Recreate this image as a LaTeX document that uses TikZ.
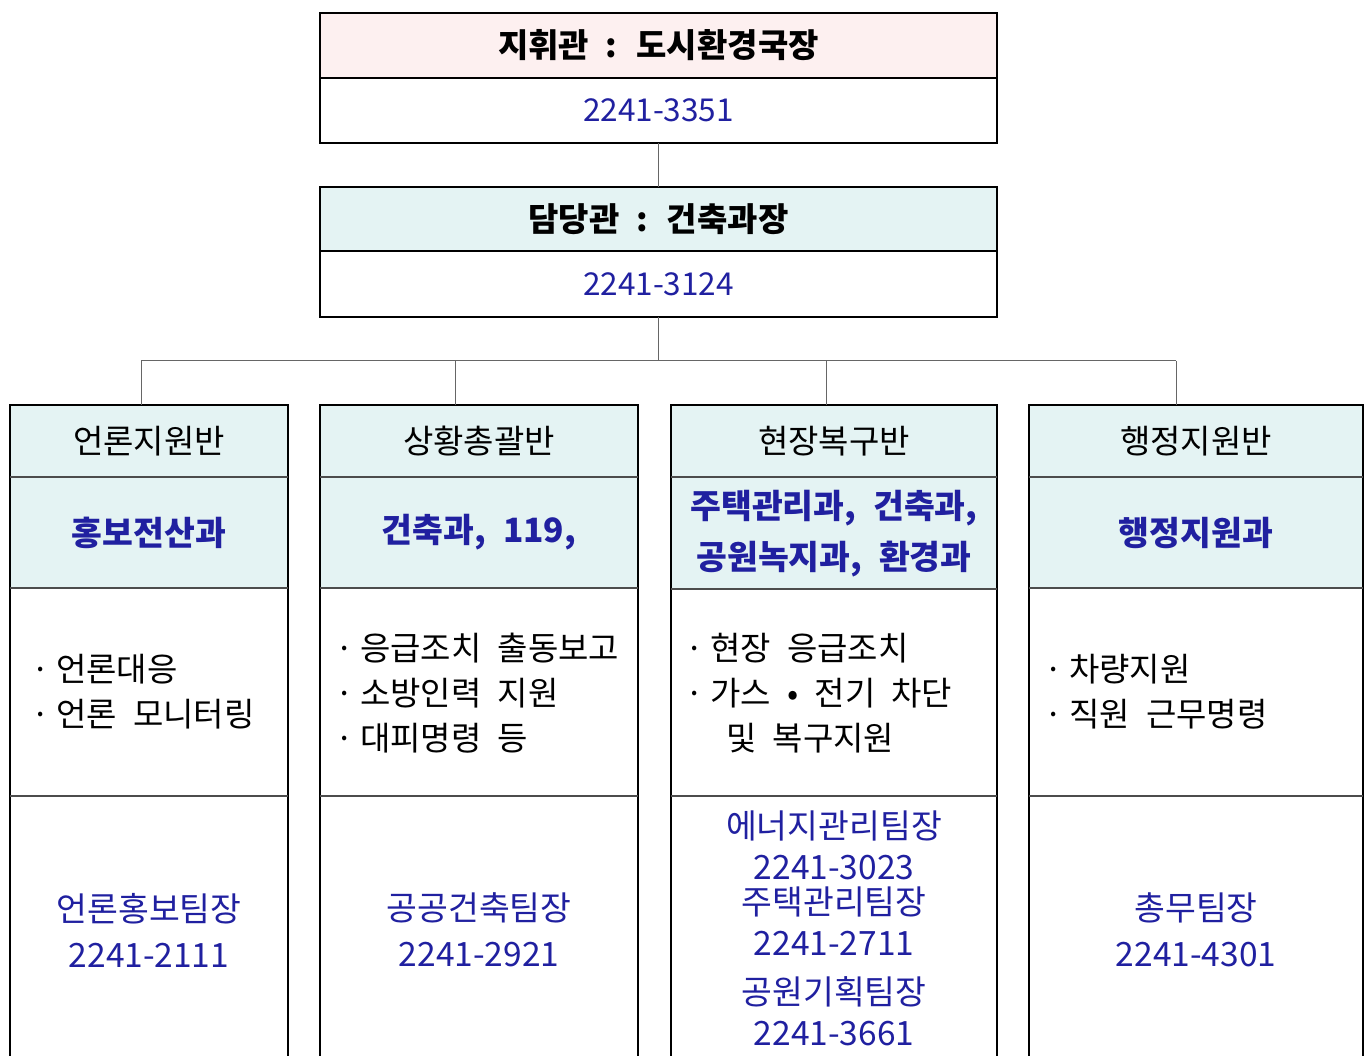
\documentclass[tikz,border=0pt]{standalone}
\usepackage{fontspec}
\setmainfont[WordSpace=2.2]{Noto Sans CJK KR}
\definecolor{pinkfill}{RGB}{253,240,240}
\definecolor{cyanfill}{RGB}{228,243,243}
\definecolor{txtblue}{RGB}{32,32,160}
\newcommand\tbul{\makebox[25pt][l]{·}}
\begin{document}
\begin{tikzpicture}[x=1pt,y=-1pt,
  cellbox/.style 2 args={inner sep=0pt, outer sep=0pt, minimum width=#1pt, minimum height=#2pt},
  frame/.style={line width=2.6pt, black},
  divider/.style={line width=1.4pt, black!70},
  conn/.style={line width=1pt, black!60},
  hdrtext/.style={font=\fontsize{33}{38}\selectfont\bfseries},
  numtext/.style={font=\fontsize{31.5}{36}\selectfont, text=txtblue},
  colhead/.style={font=\fontsize{33}{38}\selectfont},
  depttext/.style={font=\fontsize{33.5}{51}\selectfont\bfseries, text=txtblue, align=center},
  tasktext/.style={font=\fontsize{33}{45}\selectfont, align=left, anchor=west, inner sep=0pt},
  contacttext/.style={font=\fontsize{33.5}{46}\selectfont, text=txtblue, align=center, inner sep=0pt},
]
\useasboundingbox[fill=white] (0,0) rectangle (1369,1056);

% top boxes
\node[cellbox={677}{65}, fill=pinkfill, hdrtext] (cmdT) at (658.5,45.5) {지휘관 : 도시환경국장};
\node[cellbox={677}{65}, numtext] (cmdB) at (658.5,110.5) {2241-3351};
\draw[frame] (cmdT.north west) rectangle (cmdB.south east);
\draw[frame] (cmdT.south west) -- (cmdT.south east);

\node[cellbox={677}{64}, fill=cyanfill, hdrtext] (ctlT) at (658.5,219) {담당관 : 건축과장};
\node[cellbox={677}{66}, numtext] (ctlB) at (658.5,284) {2241-3124};
\draw[frame] (ctlT.north west) rectangle (ctlB.south east);
\draw[frame] (ctlT.south west) -- (ctlT.south east);

\draw[conn] (cmdB.south) -- (ctlT.north);

% column A
\node[cellbox={278}{72}, fill=cyanfill, colhead] (aH) at (149,441) {언론지원반};
\node[cellbox={278}{111}, fill=cyanfill, depttext] (aD) at (149,532.5) {홍보전산과};
\node[cellbox={278}{208}] (aT) at (149,692) {};
\node[cellbox={278}{260}] (aC) at (149,926) {};
\node[tasktext] (aTt) at (31,692) {\tbul 언론대응\\\tbul 언론 모니터링};
\node[contacttext] (aCt) at (149,930) {언론홍보팀장\\2241-2111};
\draw[frame] (aC.south west) -- (aH.north west) -- (aH.north east) -- (aC.south east);
\draw[divider] (aH.south west) -- (aH.south east);
\draw[divider] (aD.south west) -- (aD.south east);
\draw[divider] (aT.south west) -- (aT.south east);

% column B
\node[cellbox={318}{72}, fill=cyanfill, colhead] (bH) at (479,441) {상황총괄반};
\node[cellbox={318}{111}, fill=cyanfill, depttext] (bD) at (479,532.5) {건축과, 119,};
\node[cellbox={318}{208}] (bT) at (479,692) {};
\node[cellbox={318}{260}] (bC) at (479,926) {};
\node[tasktext] (bTt) at (335,693) {\tbul 응급조치 출동보고\\\tbul 소방인력 지원\\\tbul 대피명령 등};
\node[contacttext] (bCt) at (479,930) {공공건축팀장\\2241-2921};
\draw[frame] (bC.south west) -- (bH.north west) -- (bH.north east) -- (bC.south east);
\draw[divider] (bH.south west) -- (bH.south east);
\draw[divider] (bD.south west) -- (bD.south east);
\draw[divider] (bT.south west) -- (bT.south east);

% column C
\node[cellbox={326}{72}, fill=cyanfill, colhead] (cH) at (834,441) {현장복구반};
\node[cellbox={326}{111}, fill=cyanfill, depttext] (cD) at (834,533.5) {주택관리과, 건축과,\\공원녹지과, 환경과};
\node[cellbox={326}{208}] (cT) at (834,692) {};
\node[cellbox={326}{260}] (cC) at (834,926) {};
\node[tasktext] (cTt) at (685,693) {\tbul 현장 응급조치\\\tbul 가스 • 전기 차단\\\hspace{41pt}및 복구지원};
\node[contacttext] (cC1) at (834,826) {에너지관리팀장};
\node[contacttext] (cC2) at (834,868) {2241-3023};
\node[contacttext] (cC3) at (834,902) {주택관리팀장};
\node[contacttext] (cC4) at (834,943) {2241-2711};
\node[contacttext] (cC5) at (834,992) {공원기획팀장};
\node[contacttext] (cC6) at (834,1034) {2241-3661};
\draw[frame] (cC.south west) -- (cH.north west) -- (cH.north east) -- (cC.south east);
\draw[divider] (cH.south west) -- (cH.south east);
\draw[divider] (cD.south west) -- (cD.south east);
\draw[divider] (cT.south west) -- (cT.south east);

% column D
\node[cellbox={334}{72}, fill=cyanfill, colhead] (dH) at (1196,441) {행정지원반};
\node[cellbox={334}{111}, fill=cyanfill, depttext] (dD) at (1196,532.5) {행정지원과};
\node[cellbox={334}{208}] (dT) at (1196,692) {};
\node[cellbox={334}{260}] (dC) at (1196,926) {};
\node[tasktext] (dTt) at (1044,692) {\tbul 차량지원\\\tbul 직원 근무명령};
\node[contacttext] (dCt) at (1196,930) {총무팀장\\2241-4301};
\draw[frame] (dC.south west) -- (dH.north west) -- (dH.north east) -- (dC.south east);
\draw[divider] (dH.south west) -- (dH.south east);
\draw[divider] (dD.south west) -- (dD.south east);
\draw[divider] (dT.south west) -- (dT.south east);

% bus connectors
\coordinate (jA) at (141,361);
\coordinate (jB) at (455,361);
\coordinate (jC) at (826,361);
\coordinate (jD) at (1176,361);
\draw[conn] (ctlB.south) -- (ctlB.south |- jA);
\draw[conn] (jA) -- (jD);
\draw[conn] (jA) -- (jA |- aH.north);
\draw[conn] (jB) -- (jB |- bH.north);
\draw[conn] (jC) -- (jC |- cH.north);
\draw[conn] (jD) -- (jD |- dH.north);
\end{tikzpicture}
\end{document}
